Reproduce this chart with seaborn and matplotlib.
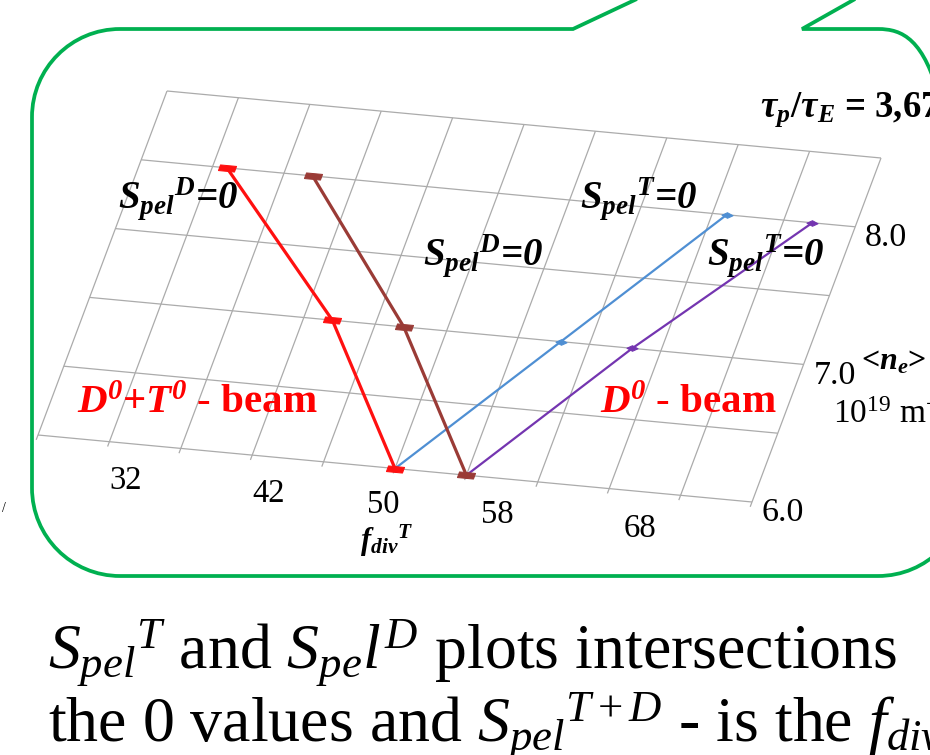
import matplotlib
matplotlib.use("Agg")
import matplotlib.pyplot as plt
import seaborn as sns
import numpy as np
from matplotlib.transforms import Affine2D, offset_copy
from matplotlib.path import Path
from matplotlib.patches import PathPatch

# ---------------- data ----------------
f_grid = [25, 30, 35, 40, 45, 50, 55, 60, 65, 70, 75]
n_grid = [6.0, 6.5, 7.0, 7.5, 8.0, 8.5]
f_tick_labels = [32, 42, 50, 58, 68]
n_tick_labels = [6.0, 7.0, 8.0]

red_f = [31, 42, 50]
red_n = [8.0, 7.0, 6.0]
brown_f = [37, 47, 55]
brown_n = [8.0, 7.0, 6.0]
blue_f = [50, 58, 66]
blue_n = [6.0, 7.0, 8.0]
purple_f = [55, 63, 72]
purple_n = [6.0, 7.0, 8.0]

# ---------------- style ----------------
sns.set_theme(style="white")
plt.rcParams["font.family"] = ["Liberation Serif", "DejaVu Serif"]
plt.rcParams["mathtext.fontset"] = "custom"
plt.rcParams["mathtext.rm"] = "Liberation Serif"
plt.rcParams["mathtext.it"] = "Liberation Serif:italic"
plt.rcParams["mathtext.bf"] = "Liberation Serif:bold"
plt.rcParams["mathtext.bfit"] = "Liberation Serif:italic:bold"

W, H = 930, 755
fig = plt.figure(figsize=(W / 100, H / 100), dpi=100)
fig.patch.set_facecolor("white")

ax = fig.add_axes([0, 0, 1, 1])
ax.set_axis_off()

ov = fig.add_axes([0, 0, 1, 1], zorder=5)
ov.set_xlim(0, W)
ov.set_ylim(H, 0)
ov.set_axis_off()
ov.patch.set_visible(False)

# affine floor plane: unit axes square -> image pixels
FL = np.array([38.0, 435.0])   # front-left corner (f min, n min)
FR = np.array([752.0, 502.0])  # front-right corner (f max, n min)
BL = np.array([167.0, 91.0])   # back-left corner (f min, n max)
U = FR - FL
V = BL - FL
A = Affine2D(np.array([
    [U[0] / W, V[0] / W, FL[0] / W],
    [-U[1] / H, -V[1] / H, 1 - FL[1] / H],
    [0, 0, 1]]))
plane = ax.transScale + ax.transLimits + A + fig.transFigure

# grid on the floor
grid_kw = dict(color="#ababab", lw=0.9, transform=plane, zorder=1,
               solid_capstyle="butt")
for fv in f_grid:
    ax.plot([fv, fv], [n_grid[0] - 0.035, n_grid[-1]], **grid_kw)
for nv in n_grid:
    ax.plot([f_grid[0], f_grid[-1]], [nv, nv], **grid_kw)

# markers
sk = 0.13
rect_marker = Path([(-1 - sk, -0.35 + 0.094), (1 - sk, -0.35 - 0.094),
                    (1 + sk, 0.35 - 0.094), (-1 + sk, 0.35 + 0.094),
                    (-1 - sk, -0.35 + 0.094)],
                   [Path.MOVETO, Path.LINETO, Path.LINETO, Path.LINETO,
                    Path.CLOSEPOLY])
diam_marker = Path([(-1, 0.05), (0, 0.5), (1, -0.05), (0, -0.5), (-1, 0.05)],
                   [Path.MOVETO, Path.LINETO, Path.LINETO, Path.LINETO,
                    Path.CLOSEPOLY])

c_red = "#ff1010"
c_brown = "#9a3b36"
c_blue = "#4f8fd3"
c_purple = "#7435b0"

sns.lineplot(x=blue_f, y=blue_n, ax=ax, color=c_blue, lw=1.6, sort=False,
             estimator=None, marker=diam_marker, markersize=8,
             markeredgecolor=c_blue, markerfacecolor=c_blue,
             transform=plane, zorder=3)
sns.lineplot(x=purple_f, y=purple_n, ax=ax, color=c_purple, lw=1.6,
             sort=False, estimator=None, marker=diam_marker, markersize=8,
             markeredgecolor=c_purple, markerfacecolor=c_purple,
             transform=plane, zorder=3)
sns.lineplot(x=red_f, y=red_n, ax=ax, color=c_red, lw=2.3, sort=False,
             estimator=None, marker=rect_marker, markersize=13,
             markeredgecolor=c_red, markerfacecolor=c_red,
             transform=plane, zorder=4)
sns.lineplot(x=brown_f, y=brown_n, ax=ax, color=c_brown, lw=2.3, sort=False,
             estimator=None, marker=rect_marker, markersize=13,
             markeredgecolor=c_brown, markerfacecolor=c_brown,
             transform=plane, zorder=4)

ax.set_xlim(f_grid[0], f_grid[-1])
ax.set_ylim(n_grid[0], n_grid[-1])
ax.set_axis_off()
if ax.get_legend() is not None:
    ax.get_legend().remove()

# tick labels placed along the floor
xlab_tr = offset_copy(plane, fig=fig, x=-12, y=-36, units="dots")
for fv in f_tick_labels:
    ax.text(fv, n_grid[0], str(fv), transform=xlab_tr, ha="center",
            va="center", fontsize=23.5, color="black", zorder=6)
ylab_tr = offset_copy(plane, fig=fig, x=10, y=-11, units="dots")
for nv in n_tick_labels:
    ax.text(f_grid[-1], nv, f"{nv:.1f}", transform=ylab_tr, ha="left",
            va="center", fontsize=24.5, color="black", zorder=6)

# ---------------- speech bubble frame ----------------
x0, x1, y0, y1, r = 32, 966, 29, 576, 88
k = 0.5523 * r
verts = [
    (656, -10), (573, y0), (x0 + r, y0),
    (x0 + r - k, y0), (x0, y0 + r - k), (x0, y0 + r),
    (x0, y1 - r),
    (x0, y1 - r + k), (x0 + r - k, y1), (x0 + r, y1),
    (x1 - r, y1),
    (x1 - r + k, y1), (x1, y1 - r + k), (x1, y1 - r),
    (x1, y0 + r),
    (x1, y0 + r - k), (x1 - r + k, y0), (x1 - r, y0),
    (802, y0), (871, -10),
]
codes = [Path.MOVETO, Path.LINETO, Path.LINETO,
         Path.CURVE4, Path.CURVE4, Path.CURVE4,
         Path.LINETO,
         Path.CURVE4, Path.CURVE4, Path.CURVE4,
         Path.LINETO,
         Path.CURVE4, Path.CURVE4, Path.CURVE4,
         Path.LINETO,
         Path.CURVE4, Path.CURVE4, Path.CURVE4,
         Path.LINETO, Path.LINETO]
ov.add_patch(PathPatch(Path(verts, codes), facecolor="none",
                       edgecolor="#00b050", lw=2.7, joinstyle="miter",
                       capstyle="butt"))

# ---------------- annotations ----------------
bi = dict(fontweight="bold", fontstyle="italic", color="black",
          ha="left", va="baseline")
lab_d = r"$\mathbfit{S}_{\mathbfit{pel}}{}^{\mathbfit{D}}$=0"
lab_t = r"$\mathbfit{S}_{\mathbfit{pel}}{}^{\mathbfit{T}}$=0"
ov.text(118, 208, lab_d, fontsize=28, **bi)
ov.text(423, 265, lab_d, fontsize=28, **bi)
ov.text(580, 208, lab_t, fontsize=28, **bi)
ov.text(707, 265, lab_t, fontsize=28, **bi)

ov.text(760, 117,
        r"$\mathbfit{\tau}_{\mathbfit{p}}$/$\mathbfit{\tau}_{\mathbfit{E}}$ = 3,67",
        fontsize=26.5, fontweight="bold", color="black", ha="left",
        va="baseline")

ov.text(77, 413, r"$\mathbfit{D}^{\mathbfit{0}}$+$\mathbfit{T}^{\mathbfit{0}}$ - beam",
        fontsize=29.5, fontweight="bold", color="#ff0000", ha="left",
        va="baseline")
ov.text(600, 413, r"$\mathbfit{D}^{\mathbfit{0}}$ - beam",
        fontsize=29.5, fontweight="bold", color="#ff0000", ha="left",
        va="baseline")

ov.text(861, 369, r"<$\mathbfit{n}_{\mathbfit{e}}$>", fontsize=23,
        fontweight="bold", color="black", ha="left", va="baseline")
ov.text(833, 423, r"10$^{19}$ m$^{-3}$", fontsize=24, color="black",
        ha="left", va="baseline")
ov.text(360, 550, r"$\mathbfit{f}_{\mathbfit{div}}{}^{\mathbfit{T}}$",
        fontsize=22, color="black", ha="left", va="baseline")
ov.text(2, 512, "/", fontsize=10, color="black", ha="left", va="baseline")

# bottom caption
ov.text(48, 668, r"$S_{pel}{}^{T}$ and $S_{pe}l^{D}$ plots intersections",
        fontsize=46, color="black", ha="left", va="baseline")
ov.text(48, 741, r"the 0 values and $S_{pel}{}^{T+D}$ - is the $f_{div}$",
        fontsize=46, color="black", ha="left", va="baseline")

fig.savefig("out.png", dpi=100, facecolor="white")
